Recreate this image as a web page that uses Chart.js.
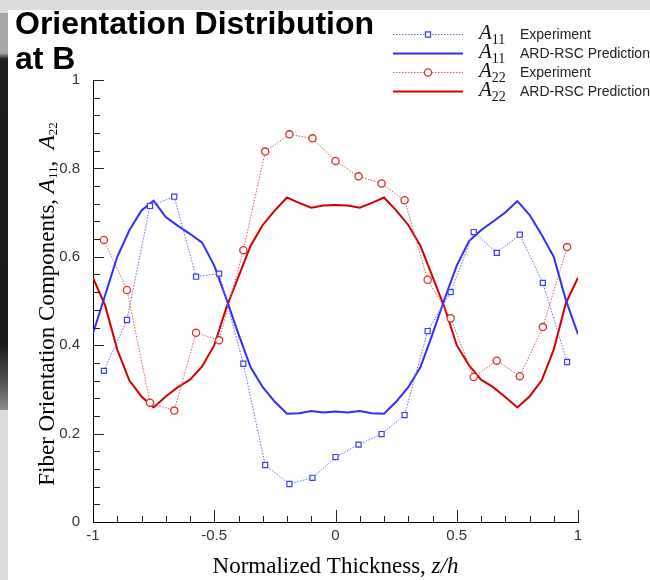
<!DOCTYPE html>
<html>
<head>
<meta charset="utf-8">
<script src="https://cdn.jsdelivr.net/npm/chart.js@4"></script>
<style>
  body { margin: 0; }
  #wrap { position: relative; width: 650px; height: 580px; background: #dcdcdc; overflow: hidden; }
  #strip { position: absolute; left: 0; top: 13px; width: 8px; height: 397px;
    background: linear-gradient(to bottom, #a6a6a6 0px, #a6a6a6 40px, #1e1e1e 46px, #1a1a1a 330px, #4a4a4a 365px, #8c8c8c 397px); }
  #paper { position: absolute; left: 8px; top: 10px; right: 0; bottom: 0; background: #fff; }
  canvas { position: absolute; left: 0; top: 0; }
</style>
</head>
<body>
<div id="wrap">
  <div id="strip"></div>
  <div id="paper"></div>
  <canvas id="chart" width="650" height="580"></canvas>
</div>
<script>
// experiment positions (z/h) and measured components
const zExp = [-0.955, -0.86, -0.765, -0.665, -0.575, -0.48, -0.38, -0.29, -0.19, -0.095, 0,
  0.095, 0.19, 0.285, 0.38, 0.475, 0.57, 0.665, 0.76, 0.855, 0.955];
const a11Exp = [0.342, 0.457, 0.715, 0.736, 0.555, 0.562, 0.358, 0.129, 0.086, 0.100, 0.147,
  0.175, 0.199, 0.242, 0.432, 0.520, 0.656, 0.609, 0.650, 0.541, 0.362];
const a22Exp = [0.638, 0.525, 0.270, 0.252, 0.428, 0.411, 0.615, 0.838, 0.877, 0.868, 0.817,
  0.782, 0.766, 0.728, 0.548, 0.461, 0.328, 0.365, 0.330, 0.441, 0.622];

// ARD-RSC prediction
const zPred = [-1, -0.95, -0.9, -0.85, -0.8, -0.75, -0.7, -0.65, -0.6, -0.55, -0.5, -0.45, -0.4,
  -0.35, -0.3, -0.25, -0.2, -0.15, -0.1, -0.05, 0, 0.05, 0.1, 0.15, 0.2, 0.25, 0.3, 0.35, 0.4,
  0.45, 0.5, 0.55, 0.6, 0.65, 0.7, 0.75, 0.8, 0.85, 0.9, 0.95, 1];
const a11Pred = [0.427, 0.513, 0.600, 0.660, 0.705, 0.727, 0.690, 0.670, 0.652, 0.632, 0.580,
  0.505, 0.425, 0.350, 0.305, 0.272, 0.245, 0.246, 0.251, 0.248, 0.250, 0.248, 0.251, 0.246,
  0.245, 0.272, 0.305, 0.350, 0.425, 0.505, 0.580, 0.635, 0.660, 0.680, 0.700, 0.726, 0.695,
  0.650, 0.600, 0.502, 0.425];
const a22Pred = [0.552, 0.490, 0.390, 0.320, 0.284, 0.259, 0.284, 0.305, 0.322, 0.352, 0.400,
  0.485, 0.555, 0.625, 0.672, 0.705, 0.734, 0.722, 0.711, 0.716, 0.717, 0.716, 0.711, 0.722,
  0.734, 0.705, 0.672, 0.625, 0.555, 0.485, 0.400, 0.355, 0.322, 0.305, 0.283, 0.259, 0.284,
  0.320, 0.390, 0.495, 0.553];

const xTickLabels = ["-1", "-0.5", "0", "0.5", "1"];
const yTickLabels = ["0", "0.2", "0.4", "0.6", "0.8", "1"];

const pts = (xs, ys) => xs.map((x, i) => ({ x: x, y: ys[i] }));

const sans = "'Liberation Sans', Arial, sans-serif";
const serif = "'Liberation Serif', 'Times New Roman', serif";

// title top-left
const titlePlugin = {
  id: "titleText",
  afterDraw(chart) {
    const c = chart.ctx;
    c.save();
    c.fillStyle = "#000";
    c.font = "bold 32px " + sans;
    c.textBaseline = "alphabetic";
    c.fillText("Orientation Distribution", 15, 34);
    c.fillText("at B", 15, 69);
    c.restore();
  },
};

// ticks pointing into the plot, minor + major
const innerTicks = {
  id: "innerTicks",
  afterDraw(chart) {
    const c = chart.ctx;
    const { x, y } = chart.scales;
    c.save();
    c.strokeStyle = "#222";
    c.lineWidth = 1;
    c.beginPath();
    for (let i = -9; i <= 10; i++) {
      const px = Math.round(x.getPixelForValue(i / 10)) + 0.5;
      const len = i % 5 === 0 ? 12 : 6;
      c.moveTo(px, y.bottom);
      c.lineTo(px, y.bottom - len);
    }
    for (let i = 1; i <= 25; i++) {
      const py = Math.round(y.getPixelForValue(i * 0.04)) + 0.5;
      const len = i % 5 === 0 ? 11 : 7;
      c.moveTo(x.left, py);
      c.lineTo(x.left + len, py);
    }
    c.stroke();
    c.restore();
  },
};

// draw a run of text pieces, each with its own font and baseline shift
function drawRich(c, parts, x0, y0) {
  let x = x0;
  parts.forEach((p) => {
    c.font = p.font;
    c.fillText(p.text, x, y0 + (p.dy || 0));
    x += c.measureText(p.text).width;
  });
  return x - x0;
}
function richWidth(c, parts) {
  let w = 0;
  parts.forEach((p) => { c.font = p.font; w += c.measureText(p.text).width; });
  return w;
}

const axisTitles = {
  id: "axisTitles",
  afterDraw(chart) {
    const c = chart.ctx;
    const { x, y } = chart.scales;
    c.save();
    c.fillStyle = "#000";
    c.textBaseline = "alphabetic";
    const xParts = [
      { text: "Normalized Thickness, ", font: "23px " + serif },
      { text: "z/h", font: "italic 23px " + serif },
    ];
    const xw = richWidth(c, xParts);
    drawRich(c, xParts, (x.left + x.right) / 2 - xw / 2, 573);

    const yParts = [
      { text: "Fiber Orientation Components, ", font: "23px " + serif },
      { text: "A", font: "italic 23px " + serif },
      { text: "11", font: "13px " + serif, dy: 3 },
      { text: ",  ", font: "23px " + serif },
      { text: "A", font: "italic 23px " + serif },
      { text: "22", font: "13px " + serif, dy: 3 },
    ];
    const yw = richWidth(c, yParts);
    c.translate(54, (y.top + y.bottom) / 2 + 3);
    c.rotate(-Math.PI / 2);
    drawRich(c, yParts, -yw / 2, 0);
    c.restore();
  },
};

// legend in the top right, built from the dataset styles
const legendBox = {
  id: "legendBox",
  afterDraw(chart) {
    const c = chart.ctx;
    c.save();
    chart.data.datasets.forEach((ds, i) => {
      const ry = 34 + 19 * i;
      c.strokeStyle = ds.borderColor;
      c.lineWidth = ds.borderWidth;
      c.setLineDash(ds.borderDash || []);
      c.beginPath();
      c.moveTo(393, ry + 0.5);
      c.lineTo(463, ry + 0.5);
      c.stroke();
      c.setLineDash([]);
      if (ds.pointRadius > 0) {
        c.fillStyle = ds.pointBackgroundColor;
        c.strokeStyle = ds.pointBorderColor;
        c.lineWidth = ds.pointBorderWidth;
        c.beginPath();
        if (ds.pointStyle === "rect") {
          const s = ds.pointRadius * Math.SQRT1_2;
          c.rect(428 - s, ry + 0.5 - s, 2 * s, 2 * s);
        } else {
          c.arc(428, ry + 0.5, ds.pointRadius, 0, Math.PI * 2);
        }
        c.fill();
        c.stroke();
      }
      c.fillStyle = "#111";
      c.textBaseline = "alphabetic";
      drawRich(c, [
        { text: "A", font: "italic 21px " + serif },
        { text: ds.sub, font: "14px " + serif, dy: 5 },
      ], 479, ry + 5);
      c.textBaseline = "middle";
      c.font = "14px " + sans;
      c.fillStyle = "#222";
      c.fillText(ds.note, 520, ry + 1);
    });
    c.restore();
  },
};

const ctx = document.getElementById("chart").getContext("2d");

new Chart(ctx, {
  type: "scatter",
  data: {
    datasets: [
      {
        label: "A11 Experiment",
        sub: "11",
        note: "Experiment",
        data: pts(zExp, a11Exp),
        showLine: true,
        borderColor: "#6a6aff",
        borderWidth: 1,
        borderDash: [1.5, 1.5],
        pointStyle: "rect",
        pointRadius: 3.6,
        pointBorderWidth: 1.2,
        pointBorderColor: "#3c3cff",
        pointBackgroundColor: "#ffffff",
      },
      {
        label: "A11 ARD-RSC Prediction",
        sub: "11",
        note: "ARD-RSC Prediction",
        data: pts(zPred, a11Pred),
        showLine: true,
        borderColor: "#2e2eff",
        borderWidth: 2,
        pointRadius: 0,
      },
      {
        label: "A22 Experiment",
        sub: "22",
        note: "Experiment",
        data: pts(zExp, a22Exp),
        showLine: true,
        borderColor: "#e05a5a",
        borderWidth: 1,
        borderDash: [1.5, 1.5],
        pointStyle: "circle",
        pointRadius: 3.6,
        pointBorderWidth: 1.3,
        pointBorderColor: "#d83030",
        pointBackgroundColor: "#ffffff",
      },
      {
        label: "A22 ARD-RSC Prediction",
        sub: "22",
        note: "ARD-RSC Prediction",
        data: pts(zPred, a22Pred),
        showLine: true,
        borderColor: "#d40000",
        borderWidth: 2,
        pointRadius: 0,
      },
    ],
  },
  options: {
    responsive: false,
    animation: false,
    layout: { padding: { left: 0, top: 80, right: 72, bottom: 0 } },
    plugins: {
      legend: { display: false },
      tooltip: { enabled: false },
    },
    scales: {
      x: {
        type: "linear",
        min: -1,
        max: 1,
        afterFit(s) { s.height = 58; },
        grid: { display: false, drawTicks: false },
        border: { display: true, color: "#000", width: 1 },
        ticks: {
          stepSize: 0.5,
          padding: 5,
          color: "#333",
          font: { family: sans, size: 15 },
          callback: (v, i) => xTickLabels[i],
        },
      },
      y: {
        type: "linear",
        min: 0,
        max: 1,
        afterFit(s) { s.width = 93; },
        grid: { display: false, drawTicks: false },
        border: { display: true, color: "#000", width: 1 },
        ticks: {
          stepSize: 0.2,
          padding: 13,
          color: "#333",
          font: { family: sans, size: 15 },
          callback: (v, i) => yTickLabels[i],
        },
      },
    },
  },
  plugins: [titlePlugin, innerTicks, axisTitles, legendBox],
});
</script>
</body>
</html>
